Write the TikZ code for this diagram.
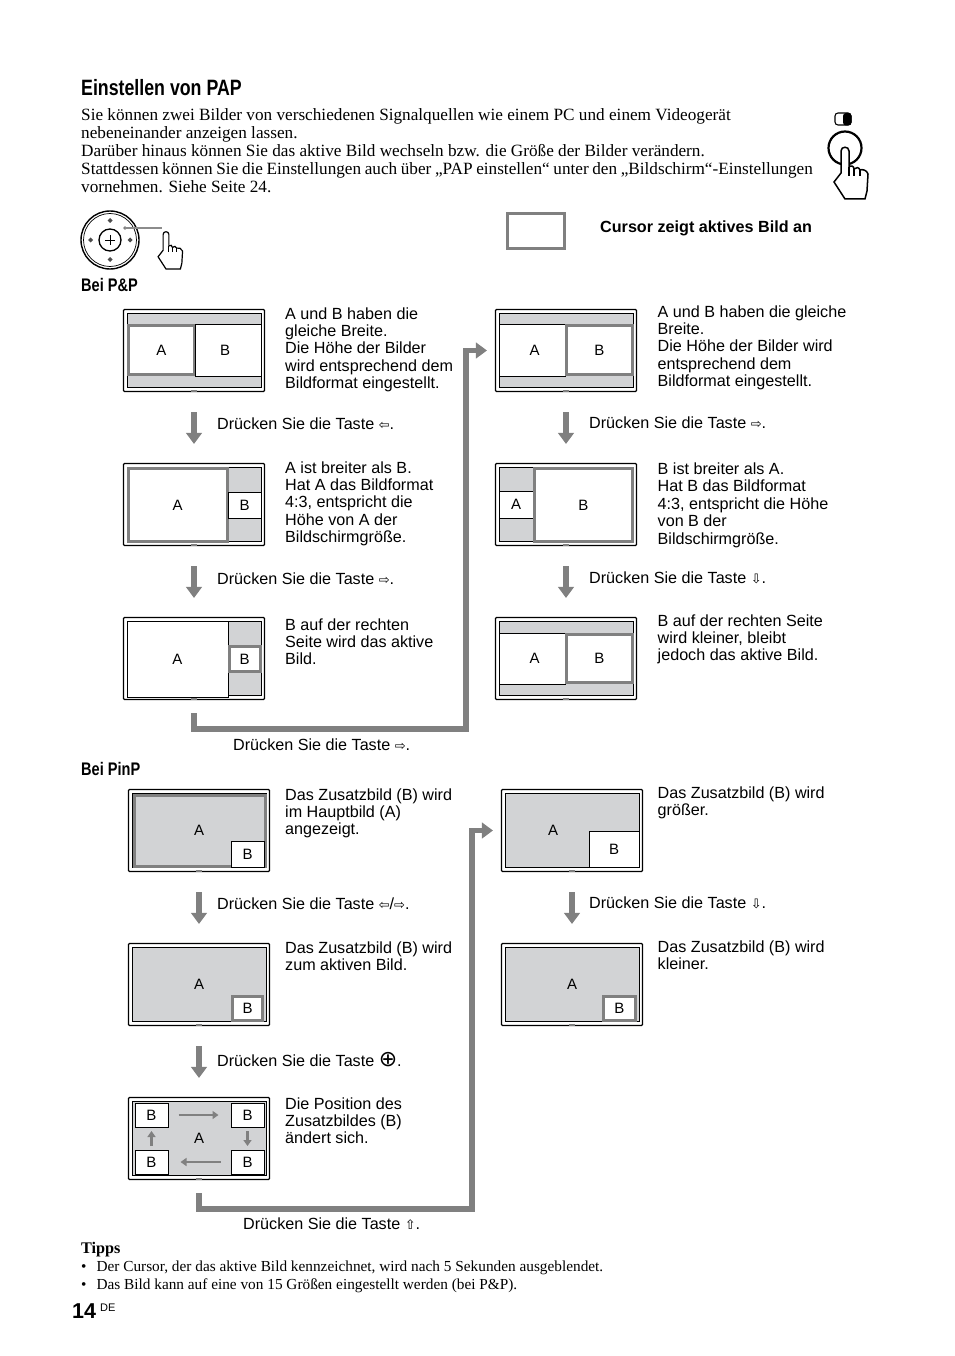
\documentclass[tikz,border=0pt]{standalone}
\usepackage{fontspec}
\setmainfont{Liberation Serif}
\setsansfont{Liberation Sans}
\newfontfamily\condfont[FakeStretch=0.8]{Liberation Sans}
\newfontfamily\keyfont{DejaVu Sans}
\usetikzlibrary{arrows.meta,positioning,calc}

\definecolor{flowgray}{HTML}{808080}
\definecolor{panegray}{HTML}{D2D3D5}

\tikzset{
    tvframe/.style={draw=black, line width=1.1pt, rounded corners=1pt, fill=white, minimum width=141pt, minimum height=82pt, inner sep=0pt},
    tvinner/.style={draw=black, line width=0.9pt, fill=panegray, minimum width=134pt, minimum height=74pt, inner sep=0pt},
    pane/.style={draw=black, line width=0.8pt, fill=white, inner sep=0pt, font=\sffamily\fontsize{15}{16}\selectfont},
    activepane/.style={pane, draw=flowgray, line width=3pt},
    plainlabel/.style={inner sep=0pt, font=\sffamily\fontsize{15}{16}\selectfont},
    flowarrow/.style={draw=flowgray, line width=5.5pt, -{Triangle[length=11pt,width=15.5pt]}},
    thinarrow/.style={draw=flowgray, line width=2.5pt, -{Triangle[length=6pt,width=8pt]}},
    bodytext/.style={anchor=north west, inner sep=0pt, align=left, font=\sffamily\fontsize{16.15}{17.2}\selectfont},
    serifbody/.style={anchor=north west, inner sep=0pt, align=left, font=\rmfamily\fontsize{17.2}{18}\selectfont},
    tipstext/.style={anchor=north west, inner sep=0pt, align=left, font=\rmfamily\fontsize{15.3}{18}\selectfont},
    headtext/.style={anchor=base west, inner sep=0pt, font=\condfont\bfseries\fontsize{18.2}{20}\selectfont},
    handicon/.pic={
        \draw[fill=white] (-4,24) -- (-4,2) .. controls (-4,-3) and (4,-3) .. (4,2) -- (4,18)
            .. controls (6,16) and (9,17) .. (9,20) .. controls (11,18) and (14,18) .. (15,21)
            .. controls (17,20) and (22,21) .. (23,25) -- (22,42) -- (20,50) -- (0,50) -- (-11,33) -- cycle;
        \draw (4,18) -- (4,27) (9,20) -- (9,27) (15,21) -- (15,27);
    },
}

% name, left, top
\newcommand{\tvscreen}[3]{
    \node[tvframe] (#1) at (#2+71,#3+41.5) {};
    \node[tvinner] (#1in) at (#1.center) {};
    \fill[flowgray] ($(#1.south)+(-3,-2)$) rectangle ($(#1.south)+(3,-0.5)$);
}
% style, name, x1, y1, x2, y2, label
\newcommand{\tvpane}[7]{
    \node[#1, minimum width={(#5-#3)*1pt}, minimum height={(#6-#4)*1pt}] (#2) at ({(#3+#5)/2},{(#4+#6)/2}) {#7};
}
\newcommand{\keysym}[1]{{\keyfont\fontsize{13}{10}\selectfont #1}}

\begin{document}
\begin{tikzpicture}[x=1pt,y=-1pt]
    \useasboundingbox (0,0) rectangle (954,1356);

    % intro
    \node[headtext, font=\condfont\bfseries\fontsize{22.2}{24}\selectfont] (title) at (81,96) {Einstellen von PAP};
    \node[serifbody] (intro) at (81,108) {Sie können zwei Bilder von verschiedenen Signalquellen wie einem PC und einem Videogerät\\
        nebeneinander anzeigen lassen.\\
        Darüber hinaus können Sie das aktive Bild wechseln bzw. die Größe der Bilder verändern.\\
        {\spaceskip=3.6pt Stattdessen können Sie die Einstellungen auch über „PAP einstellen“ unter den „Bildschirm“-Einstellungen}\\
        vornehmen. Siehe Seite 24.};

    % icon top right
    \draw[line width=1.1pt, rounded corners=3pt] (835,113) rectangle (851,125);
    \fill[rounded corners=3pt] (843,113) rectangle (851.5,125.5);
    \draw[line width=2.2pt] (845,148) circle (16.5);
    \pic[line width=1.5pt] at (845,149) {handicon};

    % wheel
    \draw[line width=1.4pt] (110,240) circle (29);
    \draw[line width=0.7pt] (110,240) circle (26.5);
    \draw[line width=1.3pt] (110,240) circle (11);
    \draw[line width=0.5pt] (105,240) -- (115,240) (110,235) -- (110,245);
    \foreach \dx/\dy in {0/-19.5,0/19.5,-19.5/0,20/0}{
        \fill[black!70] ($(110,240)+(\dx,\dy)$) +(-2.5,0) -- +(0,-2.5) -- +(2.5,0) -- +(0,2.5) -- cycle;
    }
    \fill[flowgray] (125,228) circle (1.9);
    \draw[black!45, line width=1.5pt] (125,228) -- (162,228);
    \pic[scale=0.72, line width=1.2pt] at (166,233) {handicon};

    % cursor legend
    \node[draw=flowgray, line width=3pt, fill=white, minimum width=57pt, minimum height=35pt, inner sep=0pt] (cursorbox) at (536,231) {};
    \node[anchor=base west, inner sep=0pt, font=\sffamily\bfseries\fontsize{16.15}{17}\selectfont] (cursortext) at (600,233) {Cursor zeigt aktives Bild an};

    % P&P
    \node[headtext] (headpp) at (81,291) {Bei P\&P};
    \tvscreen{ppa}{123}{309}
    \tvpane{activepane}{ppaA}{128.5}{325.5}{194}{374.5}{A}
    \node[pane, minimum width=66pt, minimum height=52pt] (ppaB) at (228,350) {\hspace{-6pt}B};
    \node[bodytext] (ppatxt) at (285,307.5) {A und B haben die\\gleiche Breite.\\Die Höhe der Bilder\\wird entsprechend dem\\Bildformat eingestellt.};
    \tvscreen{ppb}{123}{463}
    \tvpane{activepane}{ppbA}{128.5}{468.5}{227}{541.5}{A}
    \tvpane{pane}{ppbB}{228}{492}{261}{518}{B}
    \node[bodytext] (ppbtxt) at (285,461.5) {A ist breiter als B.\\Hat A das Bildformat\\4:3, entspricht die\\Höhe von A der\\Bildschirmgröße.};
    \tvscreen{ppc}{123}{617}
    \tvpane{pane}{ppcA}{127}{621}{228}{697}{A}
    \tvpane{activepane}{ppcB}{229}{646.5}{260}{671.5}{B}
    \node[bodytext] (ppctxt) at (285,618.5) {B auf der rechten\\Seite wird das aktive\\Bild.};

    \tvscreen{ppd}{495}{309}
    \tvpane{pane}{ppdA}{499}{324}{565}{376}{\hspace{5pt}A}
    \tvpane{activepane}{ppdB}{566.5}{325.5}{632}{374.5}{B}
    \node[bodytext] (ppdtxt) at (657.5,305.5) {A und B haben die gleiche\\Breite.\\Die Höhe der Bilder wird\\entsprechend dem\\Bildformat eingestellt.};
    \tvscreen{ppe}{495}{463}
    \tvpane{pane}{ppeA}{499}{491}{533}{518}{A}
    \tvpane{activepane}{ppeB}{534.5}{468.5}{632}{541.5}{B}
    \node[bodytext] (ppetxt) at (657.5,462.5) {B ist breiter als A.\\[.3pt]Hat B das Bildformat\\[.3pt]4:3, entspricht die Höhe\\[.3pt]von B der\\[.3pt]Bildschirmgröße.};
    \tvscreen{ppf}{495}{617}
    \tvpane{pane}{ppfA}{499}{633}{565}{684}{\hspace{5pt}A}
    \tvpane{activepane}{ppfB}{566.5}{634.5}{632}{682.5}{B}
    \node[bodytext] (ppftxt) at (657.5,614.5) {B auf der rechten Seite\\wird kleiner, bleibt\\jedoch das aktive Bild.};

    \draw[flowarrow, shorten <=20pt, shorten >=19pt] (ppa.south) -- (ppb.north);
    \draw[flowarrow, shorten <=20pt, shorten >=19pt] (ppb.south) -- (ppc.north);
    \draw[flowarrow, shorten <=20pt, shorten >=19pt] (ppd.south) -- (ppe.north);
    \draw[flowarrow, shorten <=20pt, shorten >=19pt] (ppe.south) -- (ppf.north);
    \coordinate (ppturn) at (466,729);
    \draw[flowarrow, shorten <=13pt, shorten >=8pt] (ppc.south) |- (ppturn) |- (ppd.west);

    \node[bodytext] (keya) at (217,417.5) {Drücken Sie die Taste \keysym{⇦}.};
    \node[bodytext] (keyb) at (217,572.5) {Drücken Sie die Taste \keysym{⇨}.};
    \node[bodytext] (keyc) at (233,738.5) {Drücken Sie die Taste \keysym{⇨}.};
    \node[bodytext] (keyd) at (589,416.5) {Drücken Sie die Taste \keysym{⇨}.};
    \node[bodytext] (keye) at (589,571.5) {Drücken Sie die Taste \keysym{⇩}.};

    % PinP
    \node[headtext] (headpinp) at (81,775) {Bei PinP};
    \tvscreen{pia}{128}{789}
    \tvpane{activepane, fill=panegray}{piaA}{134}{795}{265}{866}{}
    \node[plainlabel] (piaAl) at (199,830) {A};
    \tvpane{pane}{piaB}{231}{841}{264}{867}{B}
    \node[bodytext] (piatxt) at (285,788.5) {Das Zusatzbild (B) wird\\im Hauptbild (A)\\angezeigt.};
    \tvscreen{pib}{128}{943}
    \node[plainlabel] (pibAl) at (199,984) {A};
    \tvpane{activepane}{pibB}{232.5}{996.5}{262.5}{1020.5}{B}
    \node[bodytext] (pibtxt) at (285,941.5) {Das Zusatzbild (B) wird\\zum aktiven Bild.};
    \tvscreen{pic}{128}{1097}
    \node[plainlabel] (picAl) at (199,1138) {A};
    \tvpane{pane}{picBa}{135}{1103}{168}{1127}{B}
    \tvpane{pane}{picBb}{231}{1103}{264}{1127}{B}
    \tvpane{pane}{picBc}{135}{1150}{168}{1174}{B}
    \tvpane{pane}{picBd}{231}{1150}{264}{1174}{B}
    \draw[thinarrow] (picBa) ++(27,0) -- ++(40,0);
    \draw[thinarrow] (picBb) ++(0,16) -- ++(0,15);
    \draw[thinarrow] (picBd) ++(-27,0) -- ++(-40,0);
    \draw[thinarrow] (picBc) ++(0,-16) -- ++(0,-15);
    \node[bodytext] (pictxt) at (285,1097.5) {Die Position des\\Zusatzbildes (B)\\ändert sich.};

    \tvscreen{pid}{501}{789}
    \node[plainlabel] (pidAl) at (553,830) {A};
    \tvpane{pane}{pidB}{589}{831}{639}{867}{B}
    \node[bodytext] (pidtxt) at (657.5,786.5) {Das Zusatzbild (B) wird\\größer.};
    \tvscreen{pie}{501}{943}
    \node[plainlabel] (pieAl) at (572,984) {A};
    \tvpane{activepane}{pieB}{603.5}{996.5}{635}{1020.5}{B}
    \node[bodytext] (pietxt) at (657.5,940.5) {Das Zusatzbild (B) wird\\kleiner.};

    \draw[flowarrow, shorten <=20pt, shorten >=19pt] (pia.south) -- (pib.north);
    \draw[flowarrow, shorten <=20pt, shorten >=19pt] (pib.south) -- (pic.north);
    \draw[flowarrow, shorten <=20pt, shorten >=19pt] (pid.south) -- (pie.north);
    \coordinate (piturn) at (472,1209);
    \draw[flowarrow, shorten <=13pt, shorten >=8pt] (pic.south) |- (piturn) |- (pid.west);

    \node[bodytext] (keyf) at (217,897.5) {Drücken Sie die Taste \keysym{⇦}/\keysym{⇨}.};
    \node[bodytext] (keyg) at (217,1052.5) {Drücken Sie die Taste {\keyfont\fontsize{22}{17}\selectfont ⊕}.};
    \node[bodytext] (keyh) at (243,1217.5) {Drücken Sie die Taste \keysym{⇧}.};
    \node[bodytext] (keyi) at (589,896.5) {Drücken Sie die Taste \keysym{⇩}.};

    % tips
    \node[anchor=base west, inner sep=0pt, font=\rmfamily\bfseries\fontsize{16.2}{18}\selectfont] (tipshead) at (81,1253) {Tipps};
    \node[tipstext] (tipsa) at (81,1261) {•\hspace{10pt}Der Cursor, der das aktive Bild kennzeichnet, wird nach 5 Sekunden ausgeblendet.};
    \node[tipstext] (tipsb) at (81,1279) {•\hspace{10pt}Das Bild kann auf eine von 15 Größen eingestellt werden (bei P\&P).};

    % page number
    \node[anchor=base west, inner sep=0pt, font=\sffamily\bfseries\fontsize{21.5}{26}\selectfont] (pageno) at (72,1318) {14};
    \node[anchor=base west, inner sep=0pt, font=\sffamily\fontsize{11}{12}\selectfont] (pagelang) at (100,1311) {DE};
\end{tikzpicture}
\end{document}
